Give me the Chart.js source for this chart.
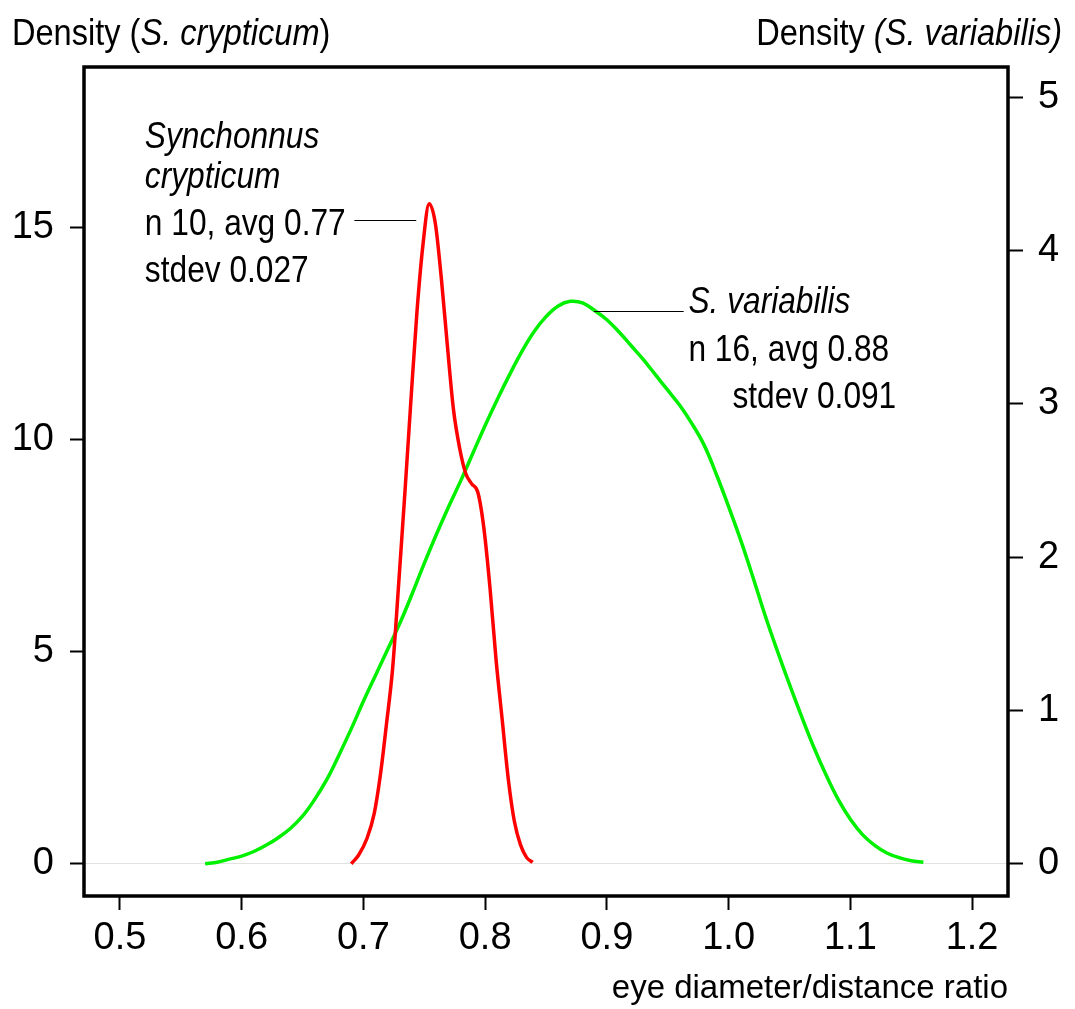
<!DOCTYPE html>
<html>
<head>
<meta charset="utf-8">
<script src="https://cdn.jsdelivr.net/npm/chart.js@4"></script>
<style>
  body { margin: 0; background: #fff; }
</style>
</head>
<body>
<canvas id="myChart" width="1075" height="1009"></canvas>
<script>
// tick values and labels
const xTicks = [0.5, 0.6, 0.7, 0.8, 0.9, 1.0, 1.1, 1.2]
const xTickLabels = ['0.5', '0.6', '0.7', '0.8', '0.9', '1.0', '1.1', '1.2']
const leftTicks = [0, 5, 10, 15]
const rightTicks = [0, 1, 2, 3, 4, 5]

// Synchonnus crypticum density (left axis)
const redX = [0.690, 0.696, 0.703, 0.709, 0.714, 0.719, 0.724, 0.729, 0.734, 0.739,
    0.744, 0.749, 0.754, 0.759, 0.764, 0.769, 0.774, 0.779, 0.784, 0.789,
    0.794, 0.799, 0.804, 0.809, 0.814, 0.819, 0.824, 0.829, 0.834, 0.839]
const redY = [0, 0.2, 0.6, 1.2, 2.1, 3.3, 4.6, 6.6, 8.7, 10.9,
    13.0, 14.6, 15.55, 15.1, 13.8, 12.2, 10.7, 9.8, 9.2, 8.95,
    8.75, 7.9, 6.5, 4.8, 3.4, 2.0, 1.0, 0.45, 0.15, 0.03]

// S. variabilis density (right axis)
const greenX = [0.57, 0.58, 0.59, 0.60, 0.61, 0.62, 0.63, 0.64, 0.65, 0.66,
    0.67, 0.68, 0.69, 0.70, 0.71, 0.72, 0.73, 0.74, 0.75, 0.76,
    0.77, 0.78, 0.79, 0.80, 0.81, 0.82, 0.83, 0.84, 0.85, 0.86,
    0.87, 0.88, 0.89, 0.90, 0.91, 0.92, 0.93, 0.94, 0.95, 0.96,
    0.97, 0.98, 0.99, 1.00, 1.01, 1.02, 1.03, 1.04, 1.05, 1.06,
    1.07, 1.08, 1.09, 1.10, 1.11, 1.12, 1.13, 1.14, 1.15, 1.16]
const greenY = [0, 0.01, 0.03, 0.05, 0.08, 0.12, 0.17, 0.23, 0.31, 0.42,
    0.55, 0.71, 0.88, 1.06, 1.23, 1.40, 1.57, 1.76, 1.96, 2.15,
    2.33, 2.50, 2.68, 2.86, 3.03, 3.19, 3.34, 3.47, 3.57, 3.64,
    3.67, 3.66, 3.61, 3.55, 3.47, 3.38, 3.29, 3.19, 3.09, 2.99,
    2.87, 2.73, 2.54, 2.33, 2.11, 1.87, 1.62, 1.39, 1.17, 0.96,
    0.76, 0.58, 0.42, 0.29, 0.19, 0.12, 0.07, 0.04, 0.02, 0.01]

const font = "'Liberation Sans', Arial, sans-serif"
const squeeze = 0.88

const pts = (xs, ys) => xs.map((x, i) => ({x: x, y: ys[i]}))

const chartDecor = {
    id: 'chartDecor',
    afterDraw(chart) {
        const ctx = chart.ctx
        const a = chart.chartArea
        const sx = chart.scales.x
        const yl = chart.scales.yLeft
        const yr = chart.scales.yRight
        ctx.save()

        // frame
        ctx.strokeStyle = '#000'
        ctx.lineWidth = 3.5
        ctx.strokeRect(a.left, a.top, a.right - a.left, a.bottom - a.top)

        ctx.fillStyle = '#000'
        ctx.textBaseline = 'middle'
        const setFont = (italic, size) => { ctx.font = (italic ? 'italic ' : '') + size + 'px ' + font }
        const text = (str, x, y, align, italic, size) => {
            ctx.save()
            setFont(italic, size)
            ctx.translate(x, y)
            ctx.scale(squeeze, 1)
            ctx.textAlign = align
            ctx.fillText(str, 0, 0)
            ctx.restore()
        }
        const mixed = (parts, x, y, align, size) => {
            let w = 0
            parts.forEach(p => {
                setFont(p[1], size)
                w += ctx.measureText(p[0]).width * squeeze
            })
            let cx = align === 'right' ? x - w : x
            parts.forEach(p => {
                text(p[0], cx, y, 'left', p[1], size)
                setFont(p[1], size)
                cx += ctx.measureText(p[0]).width * squeeze
            })
        }

        // axis titles on top
        mixed([['Density (', false], ['S. crypticum', true], [')', false]], 12, 35, 'left', 37)
        mixed([['Density ', false], ['(S. variabilis)', true]], 1062, 35, 'right', 37)

        // S. crypticum annotation
        const rx = sx.getPixelForValue(0.5205)
        text('Synchonnus', rx, yl.getPixelForValue(17.1), 'left', true, 36)
        text('crypticum', rx, yl.getPixelForValue(16.15), 'left', true, 36)
        text('n 10, avg 0.77', rx, yl.getPixelForValue(15.05), 'left', false, 36)
        text('stdev 0.027', rx, yl.getPixelForValue(13.95), 'left', false, 36)

        ctx.strokeStyle = '#000'
        ctx.lineWidth = 1
        ctx.beginPath()
        const ry = Math.round(yl.getPixelForValue(15.16)) + 0.5
        ctx.moveTo(sx.getPixelForValue(0.6926), ry)
        ctx.lineTo(sx.getPixelForValue(0.7434), ry)
        ctx.stroke()

        // S. variabilis annotation
        const gx = sx.getPixelForValue(0.967)
        text('S. variabilis', gx, yr.getPixelForValue(3.66), 'left', true, 36)
        text('n 16, avg 0.88', gx, yr.getPixelForValue(3.345), 'left', false, 36)
        text('stdev 0.091', sx.getPixelForValue(1.1377), yr.getPixelForValue(3.038), 'right', false, 36)

        ctx.beginPath()
        const gy = Math.round(yr.getPixelForValue(3.607)) + 0.5
        ctx.moveTo(sx.getPixelForValue(0.8893), gy)
        ctx.lineTo(sx.getPixelForValue(0.9631), gy)
        ctx.stroke()

        ctx.restore()
    }
}

const config = {
    type: 'line',
    data: {
        datasets: [
            {
                label: 'S. crypticum',
                data: pts(redX, redY),
                yAxisID: 'yLeft',
                borderColor: 'rgb(255, 0, 0)',
                borderWidth: 3.5,
                pointRadius: 0,
                cubicInterpolationMode: 'monotone',
                fill: false
            },
            {
                label: 'S. variabilis',
                data: pts(greenX, greenY),
                yAxisID: 'yRight',
                borderColor: 'rgb(0, 240, 0)',
                borderWidth: 3.5,
                pointRadius: 0,
                tension: 0.4,
                fill: false
            }
        ]
    },
    options: {
        responsive: false,
        animation: false,
        layout: {padding: {top: 67, left: 0, right: 0, bottom: 0}},
        plugins: {
            legend: {display: false},
            tooltip: {enabled: false}
        },
        scales: {
            x: {
                type: 'linear',
                min: 0.4705,
                max: 1.2295,
                afterBuildTicks: s => { s.ticks = xTicks.map(v => ({value: v})) },
                afterFit: s => { s.height = 113 },
                border: {display: false},
                grid: {
                    drawOnChartArea: false,
                    tickLength: 14,
                    tickWidth: 2,
                    tickColor: '#000'
                },
                ticks: {
                    color: '#000',
                    padding: 6,
                    maxRotation: 0,
                    font: {family: font, size: 38},
                    callback: v => xTickLabels[xTicks.findIndex(t => Math.abs(t - v) < 1e-6)]
                },
                title: {
                    display: true,
                    text: 'eye diameter/distance ratio',
                    align: 'end',
                    color: '#000',
                    font: {family: font, size: 33},
                    padding: {top: 0, bottom: 0}
                }
            },
            yLeft: {
                type: 'linear',
                position: 'left',
                min: -0.76,
                max: 18.77,
                afterBuildTicks: s => { s.ticks = leftTicks.map(v => ({value: v})) },
                afterFit: s => { s.width = 84 },
                border: {display: false},
                grid: {
                    color: c => c.tick && c.tick.value === 0 ? '#e2e2e2' : 'rgba(0,0,0,0)',
                    lineWidth: 1,
                    tickLength: 14,
                    tickWidth: 2,
                    tickColor: '#000'
                },
                ticks: {
                    color: '#000',
                    padding: 16,
                    font: {family: font, size: 38}
                }
            },
            yRight: {
                type: 'linear',
                position: 'right',
                min: -0.2105,
                max: 5.199,
                afterBuildTicks: s => { s.ticks = rightTicks.map(v => ({value: v})) },
                afterFit: s => { s.width = 67 },
                border: {display: false},
                grid: {
                    drawOnChartArea: false,
                    tickLength: 15,
                    tickWidth: 2,
                    tickColor: '#000'
                },
                ticks: {
                    color: '#000',
                    padding: 15,
                    font: {family: font, size: 38}
                }
            }
        }
    },
    plugins: [chartDecor]
}

const myChart = new Chart(document.getElementById('myChart'), config)
</script>
</body>
</html>
